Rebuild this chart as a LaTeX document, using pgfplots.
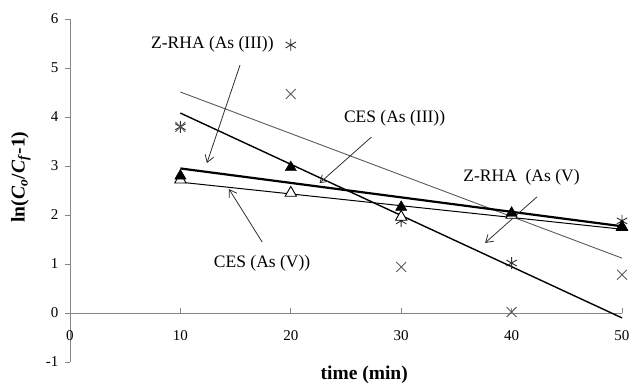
\documentclass[border=0pt]{standalone}
\usepackage{fontspec}
\setmainfont{Liberation Serif}
\usepackage{pgfplots}
\pgfplotsset{compat=1.18}
\usetikzlibrary{arrows.meta}
\definecolor{axgray}{HTML}{868686}
\definecolor{xgray}{HTML}{5A5A5A}
\definecolor{stargray}{HTML}{303030}
\begin{document}
\begin{tikzpicture}
\useasboundingbox (0,0) rectangle (633pt,383pt);
\begin{axis}[
  at={(70pt,21pt)}, anchor=south west,
  scale only axis, width=552pt, height=343pt,
  xmin=0, xmax=50, ymin=-1, ymax=6,
  axis y line*=left, axis x line*=middle,
  xtick={0,10,20,30,40,50}, ytick={-1,0,1,2,3,4,5,6},
  hide obscured x ticks=false,
  axis line style={draw=axgray, line width=0.9pt},
  tick style={draw=axgray, line width=0.9pt},
  major tick length=5pt,
  xtick align=inside, ytick align=outside,
  /pgf/number format/assume math mode=true,
  ticklabel style={font=\fontsize{15}{18}\selectfont},
  xticklabel style={yshift=-14pt},
  yticklabel style={xshift=-3pt},
  every axis x label/.style={at={(axis description cs:0.533,-0.038)}, anchor=center},
  every axis y label/.style={at={(axis description cs:-0.089,0.539)}, rotate=90, anchor=center},
  xlabel={\fontsize{19.5}{22}\selectfont\bfseries time (min)},
  ylabel={\fontsize{19.5}{22}\selectfont\bfseries ln(\textit{C}\textsubscript{\textit{o}}/\textit{C}\textsubscript{\textit{f}}-1)},
  clip=false,
]
% trend lines
\addplot[draw=stargray!80, line width=0.9pt] coordinates {(10,4.51) (50,1.12)};
\addplot[draw=black, line width=1.4pt] coordinates {(10,4.08) (50,-0.10)};
\addplot[draw=black, line width=1.0pt] coordinates {(10,2.67) (50,1.71)};
\addplot[draw=black, line width=2.2pt] coordinates {(10,2.95) (50,1.77)};
% markers
\addplot[only marks, mark=asterisk, mark size=6pt, mark options={draw=stargray, line width=0.9pt}]
  coordinates {(10,3.80) (20,5.47) (30,1.88) (40,1.02) (50,1.88)};
\addplot[only marks, mark=x, mark size=7pt, mark options={draw=xgray, line width=0.9pt}]
  coordinates {(10,3.80) (20,4.47) (30,0.94) (40,0.02) (50,0.78)};
\addplot[only marks, mark=triangle*, mark size=6.5pt, mark options={draw=black, fill=white, line width=0.9pt}]
  coordinates {(10,2.72) (20,2.45) (30,1.96) (40,2.00) (50,1.75)};
\addplot[only marks, mark=triangle*, mark size=6.5pt, mark options={draw=black, fill=black}]
  coordinates {(10,2.80) (20,2.97) (30,2.16) (40,2.04) (50,1.76)};
% annotations
\tikzset{lab/.style={font=\fontsize{17.5}{20}\selectfont, inner sep=0pt},
         arr/.style={draw=stargray, line width=0.8pt, -{Straight Barb[length=7pt,width=9pt]}}}
\node[lab] at (axis cs:12.9,5.49) {Z-RHA (As (III))};
\draw[arr] (axis cs:15.4,5.06) -- (axis cs:12.4,3.06);
\node[lab] at (axis cs:29.4,3.98) {CES (As (III))};
\draw[arr] (axis cs:27.3,3.59) -- (axis cs:22.6,2.65);
\node[lab] at (axis cs:40.9,2.76) {Z-RHA\ \ (As (V)};
\draw[arr] (axis cs:42.3,2.37) -- (axis cs:37.6,1.43);
\node[lab] at (axis cs:17.4,1.02) {CES (As (V))};
\draw[arr] (axis cs:17.4,1.45) -- (axis cs:14.4,2.53);
\end{axis}
\end{tikzpicture}
\end{document}
